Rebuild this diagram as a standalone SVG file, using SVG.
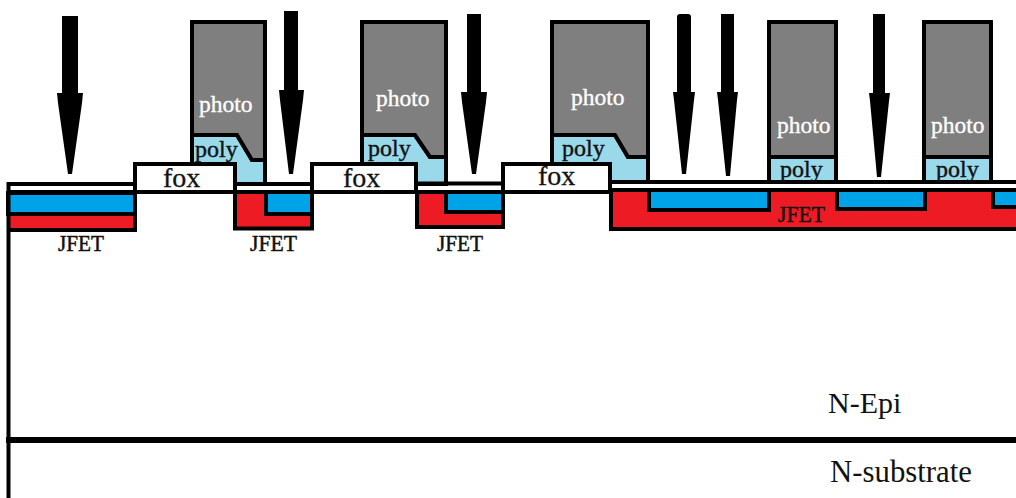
<svg xmlns="http://www.w3.org/2000/svg" width="1016" height="498" viewBox="0 0 1016 498">
<style>
.ln{fill:none;stroke:#000;stroke-width:4;stroke-linejoin:miter}
.ph{fill:#7f7f7f;stroke:#000;stroke-width:4}
.po{fill:#99d9ea;stroke:#000;stroke-width:4}
.fx{fill:#fff;stroke:#000;stroke-width:4}
.r{fill:#ed1c24}
.b{fill:#00a2e8;stroke:#000;stroke-width:4}
.ar{fill:#000}
text{font-family:"Liberation Serif","Times New Roman",serif}
.tp{font-size:23.500px;fill:#fff;stroke:#fff;stroke-width:.35px}
.tl{font-size:24px;fill:#111;stroke:#111;stroke-width:.4px}
.tf{font-size:28px;fill:#111;stroke:#111;stroke-width:.3px}
.tj{font-size:24px;fill:#111;stroke:#111;stroke-width:.5px}
.tn{font-size:30px;fill:#111}
.ts{font-size:30.800px;fill:#111}
</style>
<rect width="1016" height="498" fill="#fff"/>
<g id="jfet-regions">
<rect class="r" x="8" y="192" width="127" height="38"/>
<rect class="r" x="235" y="192" width="77" height="37"/>
<rect class="r" x="417" y="192" width="86" height="35"/>
<rect class="r" x="611" y="190" width="405" height="39"/>
<rect class="b" x="8" y="193" width="127" height="21"/>
<path class="b" d="M266 192V214H312V192Z"/>
<path class="b" d="M446 192V212H503V192Z"/>
<path class="b" d="M649 190V210H769V190Z"/>
<path class="b" d="M837 190V209H925V190Z"/>
<path class="b" d="M993 190V207H1020V190Z"/>
</g>
<g id="resist-stacks">
<path class="po" d="M192 135H237L252 160H265V184H235V164H192Z"/>
<path class="ph" d="M192 22H265V160H252L237 135H192Z"/>
<path class="po" d="M362 135H415L430 157H446V184H416V164H362Z"/>
<path class="ph" d="M362 22H446V157H430L415 135H362Z"/>
<path class="po" d="M552 135H615L628 157H648V182H610V164H552Z"/>
<path class="ph" d="M552 22H648V157H628L615 135H552Z"/>
<rect class="po" x="769" y="157" width="67" height="25"/>
<rect class="ph" x="769" y="22" width="67" height="135"/>
<rect class="po" x="924" y="157" width="67" height="25"/>
<rect class="ph" x="924" y="22" width="67" height="135"/>
</g>
<g id="structure">
<path class="ln" d="M8.500 498V184H135"/>
<path class="ln" d="M235 184H312"/>
<path class="ln" d="M417 183.500H503"/>
<path class="ln" d="M610 182H1016"/>
<path class="ln" d="M8 192H135"/>
<path class="ln" d="M235 192H312M417 192H503M611 190H1016"/>
<path class="ln" d="M135 192V230H8"/>
<path class="ln" d="M235 192V228.500H312V192"/>
<path class="ln" d="M417 192V227H503V192"/>
<path class="ln" d="M611 190V229H1016"/>
<rect class="fx" x="135" y="164" width="100" height="28"/>
<rect class="fx" x="312" y="164" width="104" height="28"/>
<rect class="fx" x="503" y="164" width="107" height="28"/>
<path d="M6 440H1016" fill="none" stroke="#000" stroke-width="6"/>
</g>
<g id="arrows">
<path class="ar" d="M62 16H78V93H83L82 103L72 174H68L58 103L57 93H62Z"/>
<path class="ar" d="M284 11H298V90H304L303 100L293 174H289L280 100L279 90H284Z"/>
<path class="ar" d="M467 14H481V92H487L486 102L476 174H472L462 102L461 92H467Z"/>
<path class="ar" d="M677 17Q677 14 680 14H688Q691 14 691 17V92H695L694 100L686 174H682L674 100L673 92H677Z"/>
<path class="ar" d="M721 14H734V92H738L737 100L730 176H726L718 100L717 92H721Z"/>
<path class="ar" d="M873 14H885V93H890L889 101L881 177H877L870 101L869 93H873Z"/>
</g>
<g id="labels">
<text class="tp" x="199" y="112">photo</text>
<text class="tp" x="376" y="106">photo</text>
<text class="tp" x="571" y="105">photo</text>
<text class="tp" x="777" y="133">photo</text>
<text class="tp" x="931" y="133">photo</text>
<text class="tl" x="195" y="157">poly</text>
<text class="tl" x="368" y="156">poly</text>
<text class="tl" x="562" y="156">poly</text>
<text class="tl" x="780" y="177">poly</text>
<text class="tl" x="936" y="177">poly</text>
<text class="tf" x="163" y="187">fox</text>
<text class="tf" x="343" y="187">fox</text>
<text class="tf" x="538" y="185">fox</text>
<text class="tj" x="58" y="251" textLength="46" lengthAdjust="spacingAndGlyphs">JFET</text>
<text class="tj" x="250" y="251" textLength="47" lengthAdjust="spacingAndGlyphs">JFET</text>
<text class="tj" x="437" y="251" textLength="46" lengthAdjust="spacingAndGlyphs">JFET</text>
<text class="tj" x="778" y="222" textLength="47" lengthAdjust="spacingAndGlyphs">JFET</text>
<text class="tn" x="828" y="413">N-Epi</text>
<text class="ts" x="830" y="482">N-substrate</text>
</g>
</svg>
